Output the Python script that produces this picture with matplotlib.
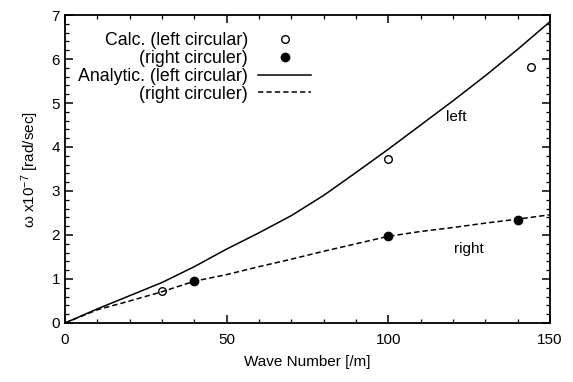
import matplotlib
matplotlib.use("Agg")
import matplotlib.pyplot as plt
from matplotlib.ticker import MultipleLocator

plt.rcParams['font.family'] = ['Liberation Sans', 'DejaVu Sans']
plt.rcParams['mathtext.fontset'] = 'custom'
plt.rcParams['mathtext.rm'] = 'Liberation Sans'
plt.rcParams['mathtext.it'] = 'Liberation Sans'

# calculated points
calc_left_k = [30, 100, 144]
calc_left_w = [0.72, 3.73, 5.82]
calc_right_k = [40, 100, 140]
calc_right_w = [0.95, 1.97, 2.35]

# analytic curves
ana_k = [0, 10, 20, 30, 40, 50, 60, 70, 80, 90, 100, 110, 120, 130, 140, 150]
ana_left = [0, 0.32, 0.62, 0.92, 1.28, 1.68, 2.05, 2.44, 2.9, 3.42, 3.95, 4.5, 5.05, 5.62, 6.22, 6.85]
ana_right = [0, 0.3, 0.5, 0.71, 0.95, 1.1, 1.28, 1.45, 1.63, 1.8, 1.97, 2.08, 2.17, 2.27, 2.36, 2.46]

fig = plt.figure(figsize=(5.73, 3.82), dpi=100)
ax = fig.add_axes([0.1134, 0.1545, 0.8465, 0.8062])

ax.plot(calc_left_k, calc_left_w, 'o', mfc='white', mec='black', mew=1.0, ms=5.5,
        ls='none', label='Calc. (left circular)')
ax.plot(calc_right_k, calc_right_w, 'o', mfc='black', mec='black', ms=6,
        ls='none', label='(right circuler)')
ax.plot(ana_k, ana_left, '-', color='black', lw=1.1, label='Analytic. (left circular)')
ax.plot(ana_k, ana_right, '--', color='black', lw=1.1, dashes=(3.5, 2),
        label='(right circuler)')

ax.text(121, 4.68, 'left', ha='center', va='center', fontsize=11)
ax.text(125, 1.68, 'right', ha='center', va='center', fontsize=11)

ax.set_xlim(0, 150)
ax.set_ylim(0, 7)
ax.xaxis.set_major_locator(MultipleLocator(50))
ax.xaxis.set_minor_locator(MultipleLocator(10))
ax.yaxis.set_major_locator(MultipleLocator(1))
ax.yaxis.set_minor_locator(MultipleLocator(0.2))
ax.tick_params(which='both', direction='in', top=True, right=True, labelsize=11)
ax.tick_params(which='major', length=5.5, width=1.1)
ax.tick_params(which='minor', length=3, width=0.9)
ax.tick_params(axis='x', pad=7)
for s in ax.spines.values():
    s.set_linewidth(1.3)

ax.set_xlabel('Wave Number [/m]', fontsize=11, labelpad=6)
ax.set_ylabel(r'ω x10$^{-7}$ [rad/sec]', fontsize=11, labelpad=8)

leg = ax.legend(loc='upper left', bbox_to_anchor=(0.027, 0.945), frameon=False,
                markerfirst=False, fontsize=12.8, handlelength=3.0,
                handletextpad=0.56, labelspacing=0.05, borderpad=0, borderaxespad=0)

fig.savefig('out.png', dpi=100)
